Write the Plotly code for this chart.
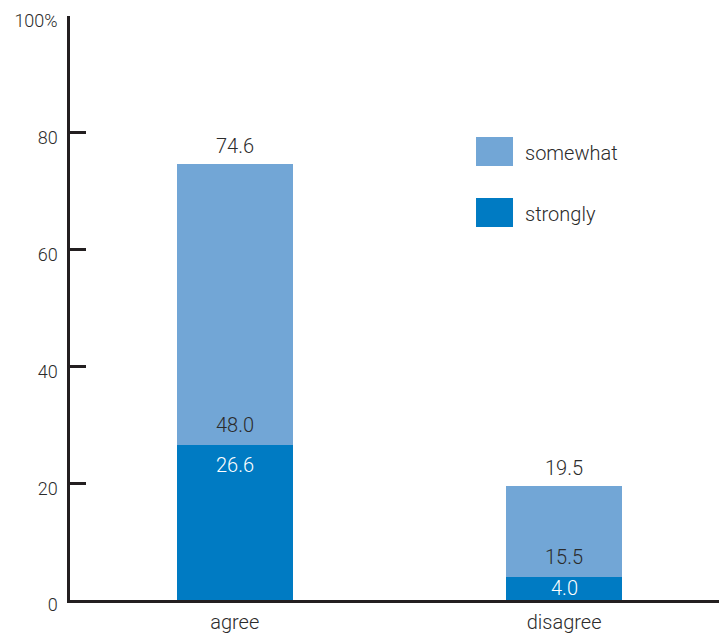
import plotly.graph_objects as go

# Survey responses, percent of respondents
categories = ["agree", "disagree"]
strongly = [26.6, 4.0]
somewhat = [48.0, 15.5]
series_names = ["somewhat", "strongly"]
y_ticks = [0, 20, 40, 60, 80, 100]
y_tick_labels = ["0", "20", "40", "60", "80", "100%"]

LIGHT = "#72a6d6"
DARK = "#007bc3"
INK = "#231f20"
TEXT = "#2b2b2b"
FONT = "Roboto"

fig = go.Figure()
fig.add_trace(go.Bar(x=categories, y=strongly, name="strongly",
                     marker=dict(color=DARK, line=dict(width=0)), width=0.353))
fig.add_trace(go.Bar(x=categories, y=somewhat, name="somewhat",
                     marker=dict(color=LIGHT, line=dict(width=0)), width=0.353))

ann = []
for cat, s, w in zip(categories, strongly, somewhat):
    total = round(s + w, 1)
    # total above the stack
    ann.append(dict(x=cat, y=total, text=f"{total:.1f}", showarrow=False,
                    yanchor="middle", yshift=18,
                    font=dict(family=FONT, size=20, color=TEXT, weight=300)))
    # "somewhat" value just above the boundary
    ann.append(dict(x=cat, y=s, text=f"{w:.1f}", showarrow=False,
                    yanchor="middle", yshift=20,
                    font=dict(family=FONT, size=20, color=TEXT, weight=300)))
    # "strongly" value inside its segment, near the top
    ann.append(dict(x=cat, y=max(s - 3.4, s / 2), text=f"{s:.1f}", showarrow=False,
                    yanchor="middle",
                    font=dict(family=FONT, size=20, color="white", weight=300)))

# legend swatches and labels
legend_rows = [(series_names[0], LIGHT, 0.7928, 0.7432),
               (series_names[1], DARK, 0.6884, 0.6387)]
shapes = []
for name, color, top, bottom in legend_rows:
    shapes.append(dict(type="rect", xref="paper", yref="paper",
                       x0=0.6256, x1=0.6826, y0=bottom, y1=top,
                       fillcolor=color, line=dict(width=0)))
    ann.append(dict(xref="paper", yref="paper", x=0.698, y=(top + bottom) / 2 - 0.003,
                    text=name, showarrow=False, xanchor="left", yanchor="middle",
                    font=dict(family=FONT, size=20, color=TEXT, weight=300)))

fig.update_layout(
    barmode="stack",
    width=719, height=635,
    margin=dict(l=70, r=0, t=16, b=35),
    paper_bgcolor="white", plot_bgcolor="white",
    showlegend=False,
    annotations=ann, shapes=shapes,
    font=dict(family=FONT, size=18, color=TEXT, weight=300),
    xaxis=dict(range=[-0.5, 1.47], showline=True, linecolor=INK, linewidth=2.5,
               ticks="", showgrid=False, zeroline=False, ticklabelstandoff=2,
               tickfont=dict(family=FONT, size=20, color=TEXT, weight=300)),
    yaxis=dict(range=[0, 100], tickvals=y_ticks, ticktext=y_tick_labels,
               showline=True, linecolor=INK, linewidth=2.5,
               ticks="inside", ticklen=16, tickwidth=2.5, tickcolor=INK,
               showgrid=False, zeroline=False, ticklabelshift=5, ticklabelstandoff=6,
               tickfont=dict(family=FONT, size=18, color=TEXT, weight=300)),
)

fig.write_html("out.html")
